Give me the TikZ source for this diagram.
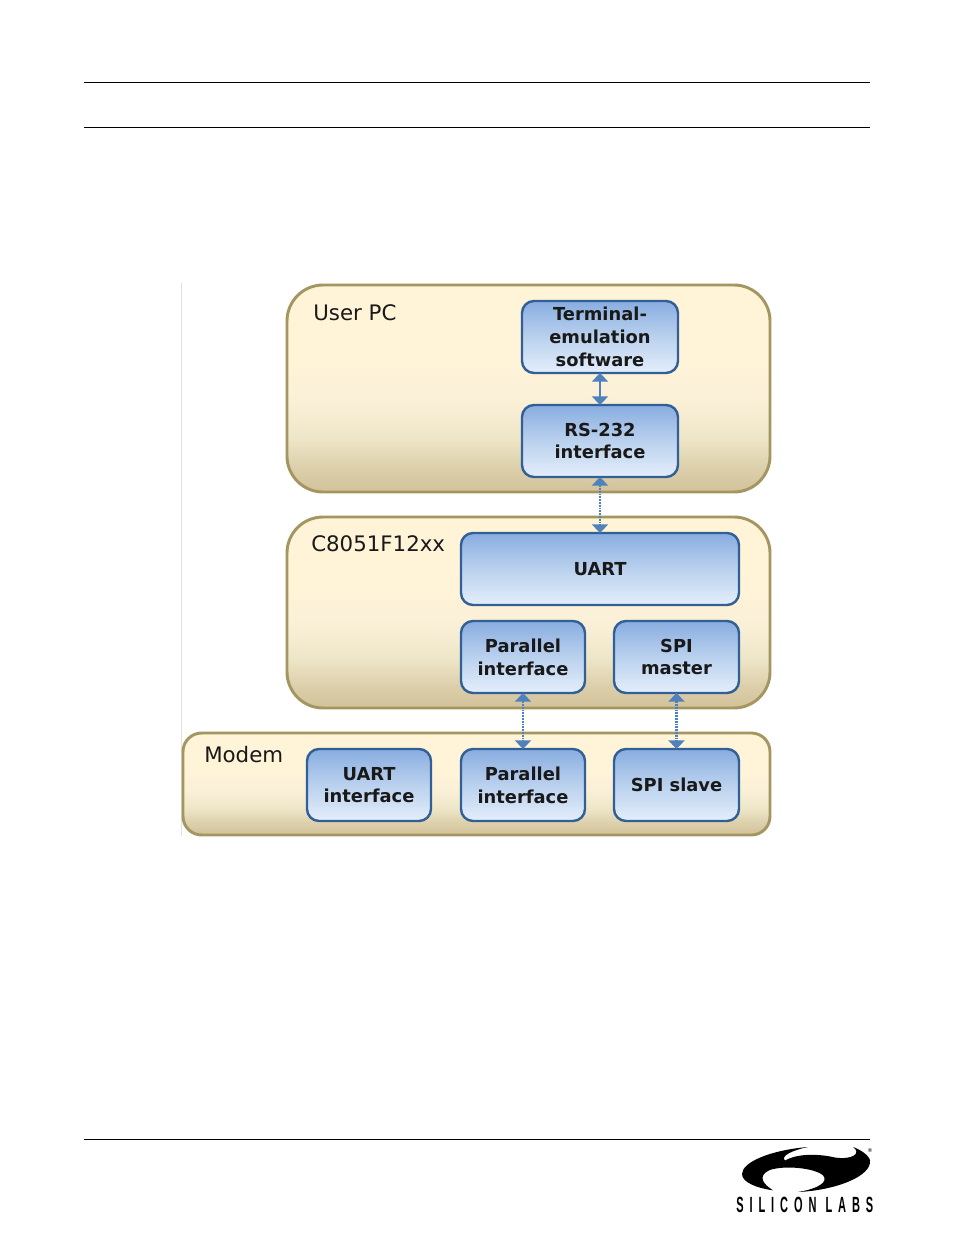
\documentclass[tikz,border=0pt]{standalone}
\usepackage{fontspec}
\setmainfont{DejaVu Sans}
\newfontfamily\logofont[LetterSpace=27,FakeStretch=0.5]{Liberation Sans}
\usetikzlibrary{arrows.meta}
\definecolor{PanelEdge}{RGB}{164,150,96}
\definecolor{BoxEdge}{RGB}{50,96,150}
\definecolor{LinkBlue}{RGB}{79,129,189}
\definecolor{SideGrey}{RGB}{225,225,225}
\definecolor{PanelLow}{RGB}{210,194,155}
\definecolor{PanelLower}{RGB}{218,205,168}
\definecolor{PanelMid}{RGB}{238,230,200}
\definecolor{PanelHigh}{RGB}{250,240,216}
\definecolor{PanelTop}{RGB}{255,243,216}
\definecolor{BoxLow}{RGB}{228,238,250}
\definecolor{BoxMid}{RGB}{186,209,238}
\definecolor{BoxTop}{RGB}{136,173,224}
\pgfdeclareverticalshading{panelshade}{100bp}{
	color(0bp)=(PanelLow);
	color(25bp)=(PanelLow);
	color(30bp)=(PanelLower);
	color(38bp)=(PanelMid);
	color(47bp)=(PanelHigh);
	color(56bp)=(PanelTop);
	color(100bp)=(PanelTop)}
\pgfdeclareverticalshading{boxshade}{100bp}{
	color(0bp)=(BoxLow);
	color(25bp)=(BoxLow);
	color(50bp)=(BoxMid);
	color(75bp)=(BoxTop);
	color(100bp)=(BoxTop)}
\tikzset{
	panel/.style={draw=PanelEdge,line width=2.2pt,shading=panelshade,rounded corners=27pt,inner sep=0pt,outer sep=0pt},
	unit/.style={draw=BoxEdge,line width=1.8pt,shading=boxshade,rounded corners=9pt,inner sep=0pt,outer sep=0pt,
		align=center,font=\fontsize{13.4}{17}\selectfont\bfseries,text=black!90},
	paneltitle/.style={anchor=west,inner sep=0pt,font=\fontsize{16}{19}\selectfont,text=black!90},
	solidlink/.style={{Triangle[width=12pt,length=6.5pt]}-{Triangle[width=12pt,length=6.5pt]},draw=LinkBlue,line width=1.8pt},
	dotlink/.style={solidlink,line width=1.6pt,dash pattern=on 1.4pt off 0.7pt},
	rulerline/.style={line width=0.75pt,black}
}
\begin{document}
\begin{tikzpicture}[x=0.75pt,y=0.75pt,yscale=-1,xscale=1]
	\useasboundingbox (0,0) rectangle (954,1235);

	%Page rules
	\coordinate (toprule1l) at (84,82);
	\coordinate (toprule1r) at (870,82);
	\coordinate (toprule2l) at (84,127);
	\coordinate (toprule2r) at (870,127);
	\coordinate (footrulel) at (84,1139);
	\coordinate (footruler) at (870,1139);
	\draw [rulerline] (toprule1l) -- (toprule1r);
	\draw [rulerline] (toprule2l) -- (toprule2r);
	\draw [rulerline] (footrulel) -- (footruler);
	\coordinate (sidetop) at (181,283);
	\coordinate (sidebot) at (181,836);
	\draw [SideGrey,line width=0.75pt] (sidetop) -- (sidebot);

	%Panels
	\node [panel,minimum width=362.25pt,minimum height=155.25pt] (userpc) at (528.5,388.5) {};
	\node [panel,minimum width=362.25pt,minimum height=143.25pt] (mcu) at (528.5,612.5) {};
	\node [panel,rounded corners=14pt,minimum width=440.25pt,minimum height=76.5pt] (modem) at (476.5,784) {};

	% Text Node
	\node [paneltitle] (userpclabel) at (313,312.5) {User PC};
	% Text Node
	\node [paneltitle] (mculabel) at (311,544) {C8051F12xx};
	% Text Node
	\node [paneltitle] (modemlabel) at (204,755) {Modem};

	%Units of the user PC
	\node [unit,minimum width=117pt,minimum height=54pt] (terminal) at (600,337) {Terminal-\\emulation\\software};
	\node [unit,minimum width=117pt,minimum height=54pt] (rsport) at (600,441) {RS-232\\interface};

	%Units of the microcontroller
	\node [unit,minimum width=208.5pt,minimum height=54pt] (uart) at (600,569) {UART};
	\node [unit,minimum width=93pt,minimum height=54pt] (parallel) at (523,657) {Parallel\\interface};
	\node [unit,minimum width=93.75pt,minimum height=54pt] (spimaster) at (676.5,657) {SPI\\master};

	%Units of the modem
	\node [unit,minimum width=93pt,minimum height=54pt] (modemuart) at (369,785) {UART\\interface};
	\node [unit,minimum width=93pt,minimum height=54pt] (modemparallel) at (523,785) {Parallel\\interface};
	\node [unit,minimum width=93.75pt,minimum height=54pt] (spislave) at (676.5,785) {SPI slave};

	%Links
	\draw [solidlink] (terminal) -- (rsport);
	\draw [dotlink] (rsport) -- (uart);
	\draw [dotlink] (parallel) -- (modemparallel);
	\draw [dotlink] (spimaster) -- (spislave);

	%Logo
	\path [fill=black] (808,1147) .. controls (771,1150) and (742,1162) .. (742,1174) .. controls (742,1182) and (756,1188) .. (773,1190.3) .. controls (763,1184) and (757,1176) .. (769.7,1170) .. controls (784.7,1165) and (814.7,1168) .. (823,1175.3) .. controls (829,1182) and (818,1188.7) .. (798,1192) .. controls (836,1190.3) and (872,1176) .. (870,1160.3) .. controls (869,1155.3) and (860,1149.3) .. (853,1147) .. controls (862,1153.5) and (852,1160) .. (835,1157.5) .. controls (818,1153.5) and (797,1153.5) .. (785,1160.5) .. controls (780,1156) and (793,1150) .. (808,1147) -- cycle;
	% Text Node
	\node [anchor=west,inner sep=0pt,font=\logofont\fontsize{16.5}{18}\selectfont\bfseries] (logotext) at (736,1205) {SILICON LABS};
	% Text Node
	\node [inner sep=0pt,font=\fontsize{4}{5}\selectfont] (logomark) at (870,1151) {®};
\end{tikzpicture}
\end{document}
